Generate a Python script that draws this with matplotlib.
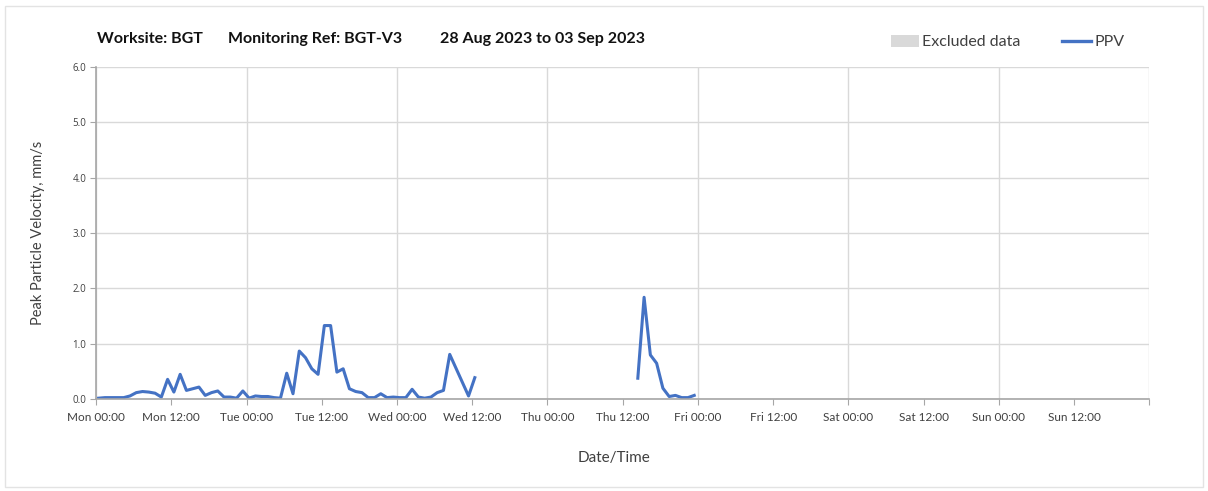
import numpy as np
import pandas as pd
import matplotlib
matplotlib.use('Agg')
import matplotlib.pyplot as plt
from matplotlib.patches import Patch, Rectangle
from matplotlib.lines import Line2D

plt.rcParams['font.family'] = ['Lato', 'DejaVu Sans']

# hourly PPV readings, mm/s (week starting Mon 28 Aug 2023)
start_1 = '2023-08-28 00:25'
ppv_1 = [0.02, 0.03, 0.03, 0.03, 0.03, 0.06, 0.12, 0.14, 0.13, 0.11,
         0.04, 0.36, 0.13, 0.45, 0.16, 0.19, 0.22, 0.07, 0.12, 0.15,
         0.04, 0.04, 0.02, 0.15, 0.02, 0.06, 0.05, 0.05, 0.03, 0.02,
         0.47, 0.10, 0.87, 0.75, 0.55, 0.45, 1.33, 1.33, 0.49, 0.55,
         0.19, 0.14, 0.12, 0.03, 0.03, 0.10, 0.03, 0.04, 0.03, 0.03,
         0.18, 0.04, 0.02, 0.04, 0.12, 0.16, 0.81, 0.56, 0.31, 0.06,
         0.39]
start_2 = '2023-08-31 14:25'
ppv_2 = [0.38, 1.84, 0.80, 0.65, 0.20, 0.05, 0.07, 0.03, 0.03, 0.07]

week_start = '2023-08-28 00:00'
week_end = '2023-09-04 00:00'
tick_labels = ['Mon 00:00', 'Mon 12:00', 'Tue 00:00', 'Tue 12:00',
               'Wed 00:00', 'Wed 12:00', 'Thu 00:00', 'Thu 12:00',
               'Fri 00:00', 'Fri 12:00', 'Sat 00:00', 'Sat 12:00',
               'Sun 00:00', 'Sun 12:00', '']
y_ticks = [0.0, 1.0, 2.0, 3.0, 4.0, 5.0, 6.0]
title_parts = ['Worksite: BGT', 'Monitoring Ref: BGT-V3',
               '28 Aug 2023 to 03 Sep 2023']

t1 = pd.date_range(start_1, periods=len(ppv_1), freq='h')
t2 = pd.date_range(start_2, periods=len(ppv_2), freq='h')
half_days = pd.date_range(week_start, week_end, freq='12h')
days = pd.date_range(week_start, week_end, freq='D')

line_col = '#4472C4'
grid_col = '#d9d9d9'
txt_col = '#404040'

fig = plt.figure(figsize=(12.08, 4.91), dpi=100)
ax = fig.add_axes([0.0795, 0.1868, 0.8719, 0.6774])

ax.plot(t1, ppv_1, color=line_col, lw=2.2, solid_joinstyle='round')
ax.plot(t2, ppv_2, color=line_col, lw=2.2, solid_joinstyle='round')

ax.set_xlim(pd.Timestamp(week_start), pd.Timestamp(week_end))
ax.set_ylim(0, 6)

# labelled ticks every 12 h, grid only at midnight
ax.set_xticks(half_days)
ax.set_xticklabels(tick_labels)
ax.set_xticks(days, minor=True)
ax.xaxis.remove_overlapping_locs = False
ax.grid(False, axis='x', which='major')
ax.grid(True, axis='x', which='minor', color=grid_col, lw=1.0)
ax.tick_params(axis='x', which='minor', length=0)
ax.tick_params(axis='x', which='major', length=4, color='#a6a6a6',
               labelsize=8.5, labelcolor=txt_col, pad=5)

ax.set_yticks(y_ticks)
ax.set_yticklabels(['%.1f' % v for v in y_ticks], family='Open Sans')
ax.grid(True, axis='y', color=grid_col, lw=1.0)
ax.tick_params(axis='y', length=4, color='#a6a6a6', labelsize=7,
               labelcolor=txt_col, pad=3)
ax.set_axisbelow(True)

for s in ['top', 'right']:
    ax.spines[s].set_visible(False)
for s in ['left', 'bottom']:
    ax.spines[s].set_color('#a6a6a6')
    ax.spines[s].set_linewidth(1.2)

ax.set_ylabel('Peak Particle Velocity, mm/s', fontsize=10.5, color=txt_col)
ax.yaxis.set_label_coords(-0.048, 0.5)
ax.set_xlabel('Date/Time', fontsize=11, color=txt_col)
ax.xaxis.set_label_coords(0.492, -0.156)

# title pieces, spaced out along the top
for x0, s in zip([0.0803, 0.1887, 0.3643], title_parts):
    fig.text(x0, 0.921, s, fontsize=11.5, fontweight='bold',
             ha='left', va='center', color='#111111')

handles = [Patch(facecolor=grid_col, edgecolor='none'),
           Line2D([], [], color=line_col, lw=2.4)]
fig.legend(handles, ['Excluded data', 'PPV'], loc='center',
           bbox_to_anchor=(0.834, 0.914), ncol=2, frameon=False,
           fontsize=11.5, handlelength=1.8, handleheight=0.75,
           handletextpad=0.2, columnspacing=2.6, labelcolor=txt_col)

# thin frame round the whole chart
fig.patches.append(Rectangle((0.004, 0.008), 0.992, 0.98, transform=fig.transFigure,
                             fill=False, edgecolor='#e3e3e3', lw=1.0))

fig.savefig('out.png', dpi=100)
